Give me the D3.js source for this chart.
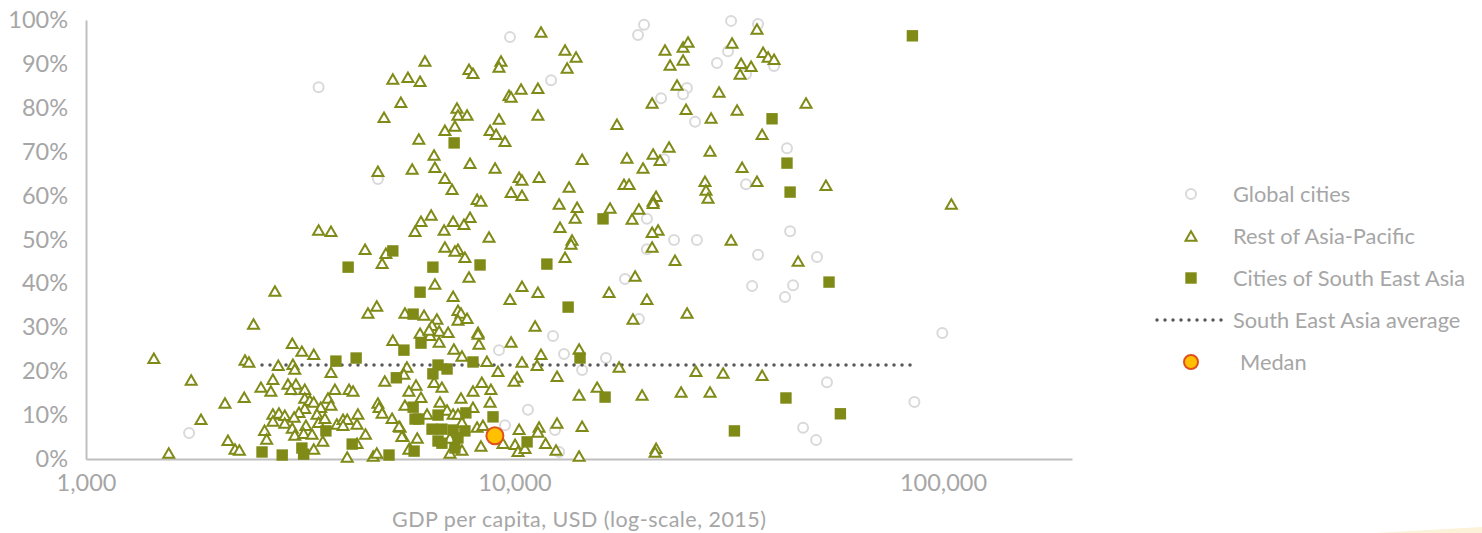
<!DOCTYPE html>
<html>
<head>
<meta charset="utf-8">
<script src="https://cdn.jsdelivr.net/npm/d3@7"></script>
<style>
  html, body { margin: 0; padding: 0; background: #fff; }
  svg { display: block; }
  text { font-family: Lato, "Open Sans", sans-serif; fill: #a6a6a6; }
</style>
</head>
<body>
<svg id="chart" width="1482" height="533"></svg>
<script>
// [GDP per capita, share %]
const globalCities = [
  [3490,84.7],[4800,63.8],[9760,96.1],[20060,98.9],[19420,96.6],[32020,99.8],[37010,99.1],[31500,92.9],
  [29680,90.2],[12170,86.3],[40340,89.5],[34700,87.7],[25260,84.5],[24740,83.1],[21980,82.2],[26390,76.8],
  [43240,70.8],[22340,68.3],[34700,62.6],[20370,54.7],[43970,51.9],[23570,49.9],[26650,49.9],[20370,47.8],
  [37010,46.5],[50810,46.0],[35850,39.4],[44680,39.6],[42790,36.9],[99620,28.7],[19510,31.9],[18110,41.0],
  [16350,23.0],[53600,17.5],[85750,13.0],[47150,7.1],[50560,4.3],[12300,28.0],[9200,24.8],[13050,23.9],
  [14380,20.3],[10750,11.2],[9500,7.7],[12430,6.6],[12710,1.6],[1740,5.9],[3070,15.7]
];

const restOfAsiaPacific = [
  [6180,90.7],[5200,86.6],[5640,87.0],[6020,86.1],[7830,88.8],[8000,87.9],[5430,81.3],[4960,77.9],
  [7340,80.0],[7380,78.4],[7750,78.4],[7260,75.9],[6880,74.9],[5980,72.9],[6490,69.3],[7875,67.4],
  [6520,66.5],[5770,66.1],[4800,65.6],[6880,64.0],[7150,61.5],[8180,59.2],[6390,55.6],[6050,54.2],
  [7190,54.2],[7875,55.1],[7620,53.5],[5860,51.9],[6850,52.2],[3490,52.2],[3730,51.9],
  [11530,97.3],[13120,93.2],[13920,91.6],[13270,89.1],[9300,90.7],[9200,89.3],[10360,84.3],[9710,82.9],
  [9820,82.5],[11340,84.5],[11340,78.4],[9200,77.5],[8770,74.9],[9060,74.0],[9500,72.4],[9010,66.3],
  [10250,64.2],[10410,63.6],[11410,64.2],[14380,68.3],[13410,62.0],[17340,76.3],[9820,60.8],[10410,60.1],
  [12710,58.1],[14000,57.4],[13850,54.9],[12770,52.8],[16710,57.2],[19510,57.0],[18810,54.7],[18300,68.6],
  [19950,66.3],[21060,69.5],[21860,68.1],[22950,71.1],[18010,62.6],[18510,62.6],[21400,59.9],[21060,58.8],
  [21060,58.3],[20950,81.1],[23950,85.2],[25140,79.7],[30020,83.6],[28760,77.7],[33070,79.5],[37830,74.0],
  [47900,81.1],[28600,70.2],[33970,66.5],[36800,63.3],[27830,63.3],[27980,61.3],[28290,59.5],[53310,62.4],
  [104600,58.1],[22450,93.2],[24740,93.9],[25410,95.0],[24740,90.9],[23070,89.8],[32190,94.8],[36800,98.0],
  [38030,92.7],[39070,91.6],[40340,91.1],[33790,90.2],[35660,89.5],[33610,87.7],[21630,52.2],[20950,51.7],
  [8720,50.6],[13620,49.9],[32020,49.9],[8350,58.8],
  [20950,48.3],[23690,45.3],[45900,45.1],[19120,41.7],[16620,38.0],[20370,36.4],[25280,33.3],[18900,31.9],
  [17540,21.0],[26510,20.0],[30680,19.6],[37830,19.1],[19850,14.6],[24480,15.3],[28600,15.3],[21400,2.5],[21290,1.6],
  [13550,49.0],[6880,48.3],[7380,47.8],[7260,47.4],[7660,46.0],[13120,46.0],[7830,41.5],[6520,39.9],
  [10410,39.4],[11340,38.0],[9760,36.4],[7190,37.1],[7380,33.9],[7500,33.3],[7380,31.7],[7750,32.1],
  [5550,33.3],[6150,32.8],[6590,31.9],[6420,30.5],[6670,29.2],[7000,28.9],[6020,28.7],[6350,28.2],
  [6670,26.7],[11170,30.3],[8220,28.9],[8220,28.5],[8260,26.2],[9820,26.7],[7220,25.1],[7540,23.5],
  [8620,22.3],[10410,22.1],[11530,23.9],[11290,21.4],[14150,25.1],[5610,21.0],[5520,19.4],[9150,20.0],
  [10140,18.7],[9980,17.8],[12570,18.9],[6490,17.5],[6770,16.4],[5890,16.9],[5670,15.5],[8390,17.5],
  [8810,15.9],[8000,15.5],[15590,16.4],[14150,14.6],[6050,14.1],[5550,12.3],[6700,13.0],[7500,13.9],
  [8770,13.0],[6960,11.2],[8000,11.8],[7190,10.3],[7380,10.3],[6250,10.3],[12570,8.2],[14380,7.5],
  [8180,7.3],[8440,7.7],[7540,8.4],[10250,6.8],[11410,7.3],[11340,6.2],[11820,3.6],[10030,3.4],
  [8350,3.0],[5930,4.8],[5490,5.2],[5405,7.3],[7070,1.4],[5700,2.5],[7540,2.1],[10190,1.8],
  [10580,2.5],[12500,2.1],[14150,0.7],[7070,4.8],[9400,3.6],
  [4480,47.8],[5010,46.9],[4910,44.6],[2760,38.3],[2460,30.8],[3030,26.4],[3190,24.6],[3400,23.9],
  [1440,23.0],[2350,22.6],[2400,22.1],[2810,21.4],[3040,21.6],[3070,20.5],[3730,19.8],[1760,18.0],
  [2730,18.2],[2560,16.4],[2700,15.5],[2960,17.1],[3090,17.1],[3010,15.9],[3240,15.9],[3810,15.9],
  [4110,15.9],[4200,15.5],[2110,12.8],[2340,14.1],[3240,13.9],[3330,13.4],[3400,13.0],[3670,13.9],
  [3730,12.3],[3530,11.8],[3240,11.6],[3140,10.7],[3460,10.3],[1855,9.1],[2730,10.3],[2820,10.5],
  [2910,10.0],[2730,8.7],[3060,9.6],[2910,8.2],[3030,7.1],[3260,7.7],[3070,5.5],[3220,5.9],
  [3370,5.7],[3490,8.4],[3610,9.3],[3850,8.0],[3980,9.1],[4070,9.1],[3980,7.7],[4310,10.3],
  [4290,8.0],[4490,5.7],[3570,4.1],[2610,6.6],[2640,4.6],[2144,4.3],[2227,2.3],[2280,2.1],
  [1560,1.4],[3400,2.3],[4070,0.5],[4290,3.6],[4680,0.7],[4770,1.4],[4980,17.8],[4800,12.8],
  [4830,11.8],[4910,10.5],[5180,9.3],[5380,7.5],[5460,5.2],[5670,2.3],[5200,27.1],[6320,29.4],
  [4550,33.3],[4770,34.9]
];

const citiesSouthEastAsia = [
  [7230,72.0],[84840,96.4],[39900,77.5],[43240,67.4],[43970,60.8],[16090,54.7],[5200,47.4],[4090,43.7],
  [6020,38.0],[5800,33.0],[5520,24.8],[6050,26.4],[3830,22.3],[4270,23.0],[5300,18.5],[5800,11.8],
  [5860,9.1],[5980,9.1],[3630,6.4],[4180,3.4],[2575,1.6],[2870,0.9],[3190,2.5],[3220,1.1],
  [5095,0.9],[5830,1.8],[6450,43.7],[8310,44.2],[11900,44.4],[13340,34.6],[14220,23.0],[6630,21.4],
  [6450,19.4],[6960,20.5],[8000,22.1],[8910,9.6],[7700,10.5],[6630,10.0],[6420,6.8],[6770,6.8],
  [7190,6.6],[7660,6.4],[6630,4.1],[6770,3.6],[7380,4.8],[7260,2.5],[10700,3.9],[54200,40.3],
  [32600,6.4],[43000,13.9],[57610,10.3],[16270,14.1]
];

const medan = [[9000, 5.3]];
const seaAverage = [[2575, 21.4], [84500, 21.4]];

const xTicks = [1000, 10000, 100000];
const yTicks = [0, 10, 20, 30, 40, 50, 60, 70, 80, 90, 100];
const legendNames = ['Global cities', 'Rest of Asia-Pacific', 'Cities of South East Asia', 'South East Asia average', 'Medan'];

const olive = '#7f8a17';
const svg = d3.select('#chart');

const x = d3.scaleLog().domain([1000, 200000]).range([86, 1072]);
const y = d3.scaleLinear().domain([0, 100]).range([459, 20]);

const triangle = d3.symbol().type(d3.symbolTriangle).size(52)();
const square = d3.symbol().type(d3.symbolSquare).size(130)();
const triangleDrop = 1.7; // symbol is centred on its centroid, values were read at mid height

// faint corner of the slide background
svg.append('path')
  .attr('d', 'M1375,533 L1482,527 L1482,533 Z')
  .style('fill', '#fbf2d9');

// axes
const xAxis = d3.axisBottom(x).tickValues(xTicks).tickSize(0).tickPadding(15).tickFormat(d3.format(','));
const yAxis = d3.axisLeft(y).tickValues(yTicks).tickSize(0).tickPadding(18).tickFormat(d => d + '%');

const gx = svg.append('g').attr('transform', 'translate(0,459)').call(xAxis);
const gy = svg.append('g').attr('transform', 'translate(86,0)').call(yAxis);
[gx, gy].forEach(g => {
  g.select('.domain').style('stroke', '#bfbfbf').style('stroke-width', 2);
  g.selectAll('text').style('font-family', 'Lato, sans-serif').style('font-size', '23.5px').style('fill', '#a6a6a6');
});

svg.append('text')
  .attr('x', 579)
  .attr('y', 527)
  .attr('text-anchor', 'middle')
  .attr('textLength', 374)
  .style('font-size', '21.5px')
  .text('GDP per capita, USD (log-scale, 2015)');

// series
svg.append('g').selectAll('circle')
  .data(globalCities)
  .enter().append('circle')
  .attr('cx', d => x(d[0]))
  .attr('cy', d => y(d[1]))
  .attr('r', 5)
  .style('fill', '#fff')
  .style('stroke', '#d9d9d9')
  .style('stroke-width', 2);

const line = d3.line().x(d => x(d[0])).y(d => y(d[1]));
svg.append('path')
  .attr('d', line(seaAverage))
  .style('fill', 'none')
  .style('stroke', '#595959')
  .style('stroke-width', 3.5)
  .style('stroke-linecap', 'round')
  .style('stroke-dasharray', '0 8');

svg.append('g').selectAll('path')
  .data(restOfAsiaPacific)
  .enter().append('path')
  .attr('d', triangle)
  .attr('transform', d => 'translate(' + x(d[0]) + ',' + (y(d[1]) + triangleDrop) + ')')
  .style('fill', '#fff')
  .style('stroke', olive)
  .style('stroke-width', 2);

svg.append('g').selectAll('path')
  .data(citiesSouthEastAsia)
  .enter().append('path')
  .attr('d', square)
  .attr('transform', d => 'translate(' + x(d[0]) + ',' + y(d[1]) + ')')
  .style('fill', olive);

svg.append('g').selectAll('circle')
  .data(medan)
  .enter().append('circle')
  .attr('cx', d => x(d[0]))
  .attr('cy', d => y(d[1]))
  .attr('r', 8.5)
  .style('fill', '#ffc000')
  .style('stroke', '#e0501e')
  .style('stroke-width', 2);

// legend
const legendY = d3.scalePoint().domain(legendNames).range([194, 362]);
const legends = svg.append('g').selectAll('g')
  .data(legendNames)
  .enter().append('g')
  .attr('transform', d => 'translate(1191,' + legendY(d) + ')');

legends.append('text')
  .attr('x', (d, i) => i === 4 ? 49 : 42)
  .attr('dy', '.35em')
  .style('font-size', '21.8px')
  .text(d => d);

legends.filter((d, i) => i === 0).append('circle')
  .attr('r', 5).style('fill', '#fff').style('stroke', '#d9d9d9').style('stroke-width', 2);
legends.filter((d, i) => i === 1).append('path')
  .attr('d', triangle).attr('transform', 'translate(0,' + triangleDrop + ')')
  .style('fill', '#fff').style('stroke', olive).style('stroke-width', 2);
legends.filter((d, i) => i === 2).append('path')
  .attr('d', square).style('fill', olive);
legends.filter((d, i) => i === 3).append('line')
  .attr('x1', -34).attr('x2', 33)
  .style('stroke', '#595959').style('stroke-width', 3.5)
  .style('stroke-linecap', 'round').style('stroke-dasharray', '0 8');
legends.filter((d, i) => i === 4).append('circle')
  .attr('r', 7).style('fill', '#ffc000').style('stroke', '#e0501e').style('stroke-width', 2);
</script>
</body>
</html>
